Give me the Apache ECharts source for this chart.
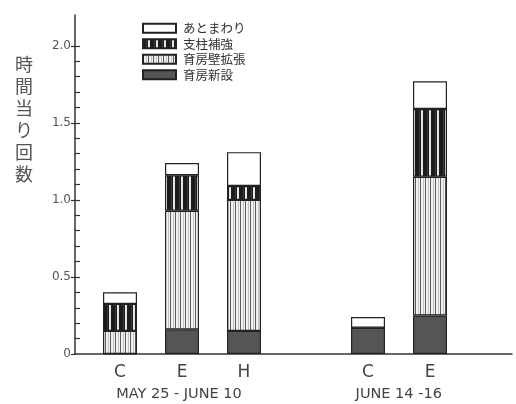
<!DOCTYPE html>
<html>
<head>
<meta charset="utf-8">
<script src="https://cdn.jsdelivr.net/npm/echarts@6/dist/echarts.min.js"></script>
<style>
  html, body { margin: 0; padding: 0; background: #fff; }
  #chart { width: 516px; height: 404px; }
</style>
</head>
<body>
<div id="chart"></div>
<script>
// Bar slots (the empty slot separates the two observation periods)
const categories = ['C', 'E', 'H', '', 'C', 'E'];
const periodPositions = [1.95, 5.5];
const periodLabels = ['MAY 25 - JUNE 10', 'JUNE 14 -16'];

// Behaviour frequencies per hour, stacked bottom to top
const seriesNames = ['育房新設', '育房壁拡張', '支柱補強', 'あとまわり'];
const newCells   = [0.00, 0.16, 0.15, null, 0.17, 0.25];
const wallExtend = [0.15, 0.77, 0.85, null, 0.00, 0.90];
const pillar     = [0.175, 0.23, 0.09, null, 0.00, 0.44];
const rounds     = [0.075, 0.08, 0.22, null, 0.07, 0.18];

const yTicks = [0, 0.5, 1.0, 1.5, 2.0];
const yMinor = [0.1,0.2,0.3,0.4,0.5,0.6,0.7,0.8,0.9,1.0,1.1,1.2,1.3,1.4,1.5,1.6,1.7,1.8,1.9,2.0];
const yTitle = '時間当り回数';

function makePattern(w, h, draw) {
  const c = document.createElement('canvas');
  c.width = w; c.height = h;
  const ctx = c.getContext('2d');
  draw(ctx, w, h);
  return { image: c, repeat: 'repeat' };
}
// thin grey verticals on white
const lightStripes = makePattern(5, 8, (ctx, w, h) => {
  ctx.fillStyle = '#f0f0f0'; ctx.fillRect(0, 0, w, h);
  ctx.fillStyle = '#5e5e5e'; ctx.fillRect(0, 0, 1, h);
  ctx.fillStyle = '#c4c4c4'; ctx.fillRect(3, 0, 1, h);
});
// black with narrow white verticals
const darkStripes = makePattern(8, 8, (ctx, w, h) => {
  ctx.fillStyle = '#1c1c1c'; ctx.fillRect(0, 0, w, h);
  ctx.fillStyle = '#3a3a3a'; ctx.fillRect(3, 0, 1, h);
  ctx.fillStyle = '#e6e6e6'; ctx.fillRect(5, 0, 2, h);
});

const fills = ['#555', lightStripes, darkStripes, '#fff'];
const valueSets = [newCells, wallExtend, pillar, rounds];

const chart = echarts.init(document.getElementById('chart'), null, { renderer: 'canvas' });

const series = valueSets.map((vals, i) => ({
  name: seriesNames[i],
  type: 'bar',
  stack: 'total',
  barWidth: 34,
  xAxisIndex: 1,
  yAxisIndex: 2,
  itemStyle: { color: fills[i], borderColor: '#222', borderWidth: 1.2 },
  data: vals
}));

chart.setOption({
  animation: false,
  backgroundColor: '#fff',
  grid: [
    // frame grid: carries the axis lines, ticks and period labels
    { left: 75, right: 4, top: 15, bottom: 50 },
    // bar grid: one 62px slot per category
    { left: 89, right: 55, top: 15, bottom: 50 }
  ],
  legend: {
    data: seriesNames.slice().reverse(),
    orient: 'vertical',
    left: 137,
    top: 17,
    icon: 'rect',
    itemWidth: 33,
    itemHeight: 9,
    itemGap: 3,
    selectedMode: false,
    textStyle: { fontFamily: 'Noto Sans CJK JP', fontSize: 12.5, lineHeight: 12, color: '#333', padding: [0, 0, 0, 2] }
  },
  xAxis: [
    {
      gridIndex: 0, type: 'value', min: 0.27, max: 7.33,
      splitLine: { show: false },
      axisLine: { show: true, lineStyle: { color: '#333', width: 1.5 } },
      axisTick: { show: false },
      axisLabel: {
        customValues: periodPositions,
        formatter: v => periodLabels[periodPositions.indexOf(v)] ?? '',
        fontFamily: 'DejaVu Sans', fontSize: 14.5, color: '#444', margin: 33
      }
    },
    {
      gridIndex: 1, type: 'category', data: categories,
      axisLine: { show: false },
      axisTick: { show: false },
      axisLabel: { fontFamily: 'DejaVu Sans', fontSize: 17, color: '#444', margin: 10 }
    }
  ],
  yAxis: [
    {
      gridIndex: 0, type: 'value', min: 0, max: 2.2,
      splitLine: { show: false },
      axisLine: { show: true, lineStyle: { color: '#333', width: 1.5 } },
      axisTick: { show: true, customValues: yTicks, length: 4, lineStyle: { color: '#333', width: 1.2 } },
      axisLabel: {
        customValues: yTicks,
        formatter: v => (v === 0 ? '0' : v.toFixed(1)),
        fontFamily: 'DejaVu Sans', fontSize: 12, color: '#555', margin: 4
      }
    },
    {
      gridIndex: 0, type: 'value', min: 0, max: 2.2, position: 'left',
      splitLine: { show: false },
      axisLine: { show: false },
      axisTick: { show: true, inside: true, customValues: yMinor, length: 5, lineStyle: { color: '#333', width: 1.2 } },
      axisLabel: { show: false }
    },
    {
      gridIndex: 1, type: 'value', min: 0, max: 2.2, show: false
    }
  ],
  graphic: [
    {
      type: 'text', left: 15, top: 53,
      style: {
        text: yTitle.split('').join('\n'),
        fontFamily: 'Noto Sans CJK JP', fontSize: 18, lineHeight: 22,
        fill: '#555', align: 'center'
      }
    }
  ],
  series: series
});
</script>
</body>
</html>
